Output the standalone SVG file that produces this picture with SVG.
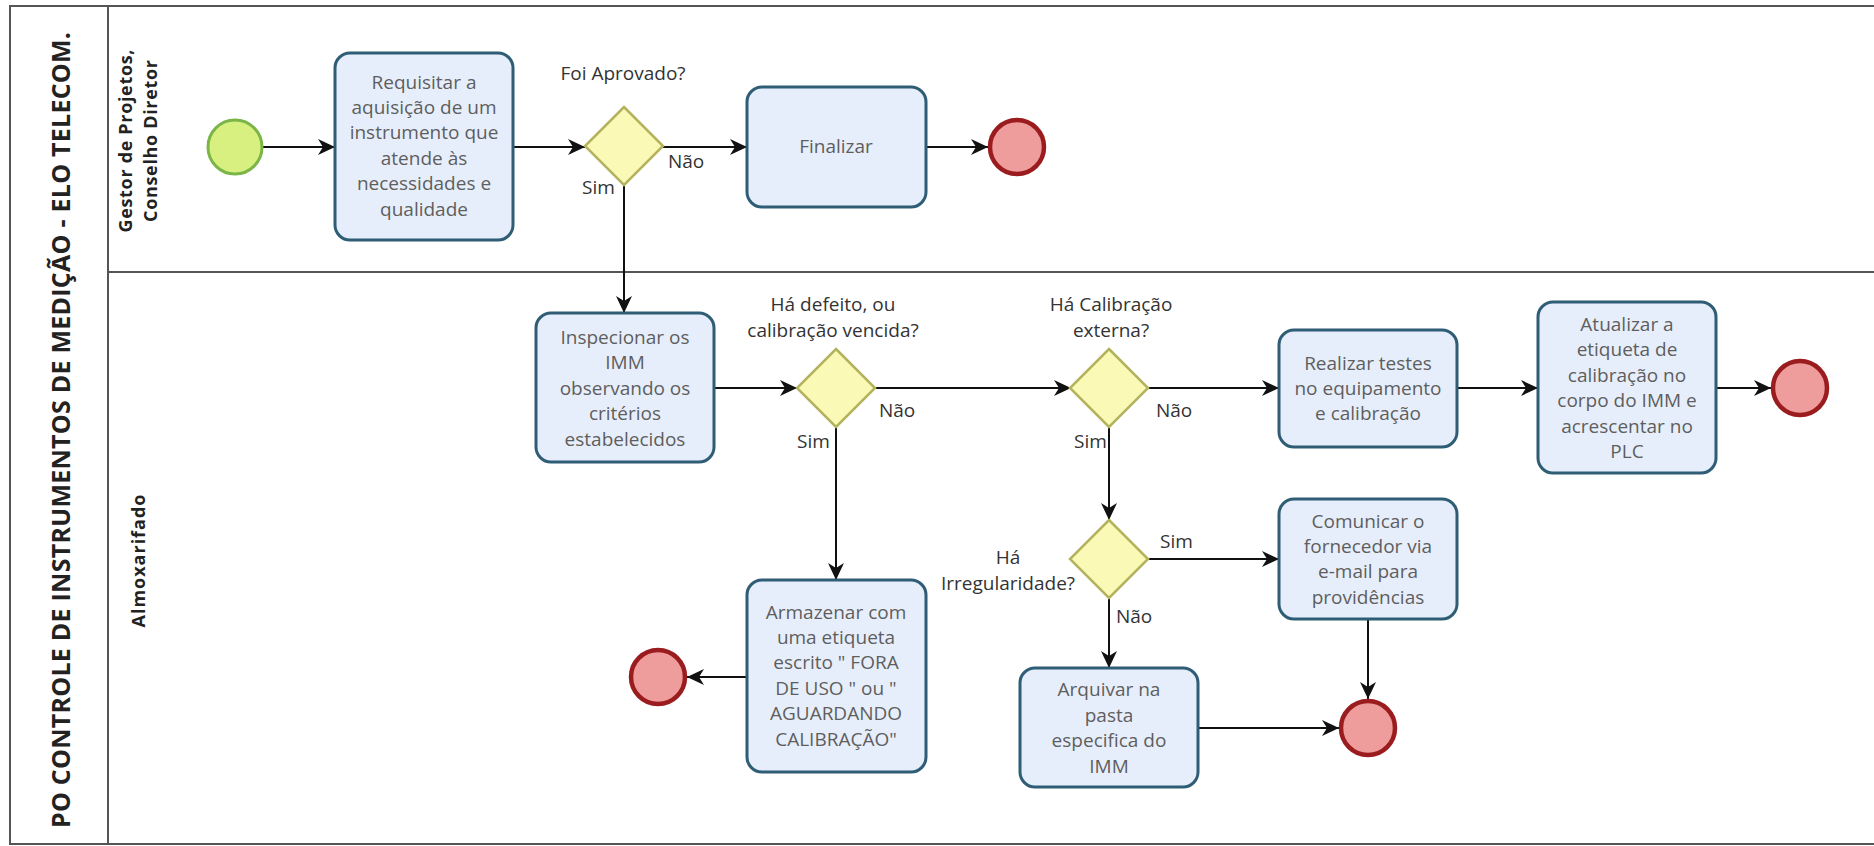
<svg xmlns="http://www.w3.org/2000/svg" width="1874" height="846" viewBox="0 0 1874 846">
<style>
.frame{fill:none;stroke:#555;stroke-width:2}
.task rect{fill:#e7eefb;stroke:#2e5d75;stroke-width:3}
.task text,.ttext{font-family:"Open Sans","Liberation Sans",sans-serif;font-size:19px;fill:#5e5e5e;text-anchor:middle}
.gw polygon{fill:#fbf9b6;stroke:#b3b35e;stroke-width:2.5}
.lbl{font-family:"Open Sans","Liberation Sans",sans-serif;font-size:19px;fill:#333}
.mid{text-anchor:middle}
.start circle{fill:#d8f07f;stroke:#7bb548;stroke-width:3}
.end circle{fill:#ee9c9c;stroke:#9a1c1f;stroke-width:4.5}
.conn path{fill:none;stroke:#111;stroke-width:2}
.lane{font-family:"Open Sans","Liberation Sans",sans-serif;font-weight:bold;fill:#222}
</style>
<defs>
<marker id="arr" markerUnits="userSpaceOnUse" markerWidth="18" markerHeight="18" refX="17" refY="9" orient="auto">
<path d="M0,1 L17,9 L0,17 L5,9 Z" fill="#111"/>
</marker>
</defs>
<rect width="1874" height="846" fill="#fff"/>
<g id="pool">
<rect class="frame" x="10" y="6" width="1880" height="838"/>
<line class="frame" x1="108" y1="6" x2="108" y2="844"/>
<line class="frame" x1="108" y1="272" x2="1874" y2="272"/>
<text class="lane" font-size="25" text-anchor="middle" transform="translate(70,430) rotate(-90)" textLength="796">PO CONTROLE DE INSTRUMENTOS DE MEDIÇÃO - ELO TELECOM.</text>
<text class="lane" font-size="18" text-anchor="middle" transform="translate(132,141) rotate(-90)" textLength="183">Gestor de Projetos,</text>
<text class="lane" font-size="18" text-anchor="middle" transform="translate(157,141) rotate(-90)" textLength="162">Conselho Diretor</text>
<text class="lane" font-size="18" text-anchor="middle" transform="translate(145,561) rotate(-90)" textLength="133">Almoxarifado</text>
</g>
<g id="conn" class="conn">
<path d="M263,147 H335" marker-end="url(#arr)"/>
<path d="M514,147 H585" marker-end="url(#arr)"/>
<path d="M663,147 H747" marker-end="url(#arr)"/>
<path d="M926,147 H988" marker-end="url(#arr)"/>
<path d="M624,185 V313" marker-end="url(#arr)"/>
<path d="M714,388 H797" marker-end="url(#arr)"/>
<path d="M875,388 H1071" marker-end="url(#arr)"/>
<path d="M1147,388 H1279" marker-end="url(#arr)"/>
<path d="M1457,388 H1538" marker-end="url(#arr)"/>
<path d="M1716,388 H1771" marker-end="url(#arr)"/>
<path d="M836,427 V580" marker-end="url(#arr)"/>
<path d="M747,677 H687" marker-end="url(#arr)"/>
<path d="M1109,427 V520" marker-end="url(#arr)"/>
<path d="M1149,559 H1279" marker-end="url(#arr)"/>
<path d="M1109,598 V668" marker-end="url(#arr)"/>
<path d="M1368,619 V699" marker-end="url(#arr)"/>
<path d="M1198,728 H1339" marker-end="url(#arr)"/>
</g>
<g id="start" class="start"><circle cx="235" cy="147" r="27"/></g>
<g id="t_requisitar" class="task">
<rect x="335" y="53" width="178" height="187" rx="15"/>
<text x="424" y="89">Requisitar a</text>
<text x="424" y="114">aquisição de um</text>
<text x="424" y="139">instrumento que</text>
<text x="424" y="165">atende às</text>
<text x="424" y="190">necessidades e</text>
<text x="424" y="216">qualidade</text>
</g>
<g id="gw_aprovado" class="gw">
<polygon points="624,107 663,146 624,185 585,146"/>
<text class="lbl mid" x="623" y="80">Foi Aprovado?</text>
<text class="lbl" x="582" y="194">Sim</text>
<text class="lbl" x="668" y="168">Não</text>
</g>
<g id="t_finalizar" class="task">
<rect x="747" y="87" width="179" height="120" rx="15"/>
<text x="836" y="153">Finalizar</text>
</g>
<g id="end1" class="end"><circle cx="1017" cy="147" r="27"/></g>
<g id="t_inspecionar" class="task">
<rect x="536" y="313" width="178" height="149" rx="15"/>
<text x="625" y="344">Inspecionar os</text>
<text x="625" y="369">IMM</text>
<text x="625" y="395">observando os</text>
<text x="625" y="420">critérios</text>
<text x="625" y="446">estabelecidos</text>
</g>
<g id="gw_defeito" class="gw">
<polygon points="836,349 875,388 836,427 797,388"/>
<text class="lbl mid" x="833" y="311">Há defeito, ou</text>
<text class="lbl mid" x="833" y="337">calibração vencida?</text>
<text class="lbl" x="797" y="448">Sim</text>
<text class="lbl" x="879" y="417">Não</text>
</g>
<g id="gw_calibracao" class="gw">
<polygon points="1109,349 1148,388 1109,427 1070,388"/>
<text class="lbl mid" x="1111" y="311">Há Calibração</text>
<text class="lbl mid" x="1111" y="337">externa?</text>
<text class="lbl" x="1074" y="448">Sim</text>
<text class="lbl" x="1156" y="417">Não</text>
</g>
<g id="t_realizar" class="task">
<rect x="1279" y="330" width="178" height="117" rx="15"/>
<text x="1368" y="370">Realizar testes</text>
<text x="1368" y="395">no equipamento</text>
<text x="1368" y="420">e calibração</text>
</g>
<g id="t_atualizar" class="task">
<rect x="1538" y="302" width="178" height="171" rx="15"/>
<text x="1627" y="331">Atualizar a</text>
<text x="1627" y="356">etiqueta de</text>
<text x="1627" y="382">calibração no</text>
<text x="1627" y="407">corpo do IMM e</text>
<text x="1627" y="433">acrescentar no</text>
<text x="1627" y="458">PLC</text>
</g>
<g id="end2" class="end"><circle cx="1800" cy="388" r="27"/></g>
<g id="gw_irregularidade" class="gw">
<polygon points="1109,520 1148,559 1109,598 1070,559"/>
<text class="lbl mid" x="1008" y="564">Há</text>
<text class="lbl mid" x="1008" y="590">Irregularidade?</text>
<text class="lbl" x="1160" y="548">Sim</text>
<text class="lbl" x="1116" y="623">Não</text>
</g>
<g id="t_comunicar" class="task">
<rect x="1279" y="499" width="178" height="120" rx="15"/>
<text x="1368" y="528">Comunicar o</text>
<text x="1368" y="553">fornecedor via</text>
<text x="1368" y="578">e-mail para</text>
<text x="1368" y="604">providências</text>
</g>
<g id="t_arquivar" class="task">
<rect x="1020" y="668" width="178" height="119" rx="15"/>
<text x="1109" y="696">Arquivar na</text>
<text x="1109" y="722">pasta</text>
<text x="1109" y="747">especifica do</text>
<text x="1109" y="773">IMM</text>
</g>
<g id="end3" class="end"><circle cx="1368" cy="728" r="27"/></g>
<g id="t_armazenar" class="task">
<rect x="747" y="580" width="179" height="192" rx="15"/>
<text x="836" y="619">Armazenar com</text>
<text x="836" y="644">uma etiqueta</text>
<text x="836" y="669">escrito &quot; FORA</text>
<text x="836" y="695">DE USO &quot; ou &quot;</text>
<text x="836" y="720">AGUARDANDO</text>
<text x="836" y="746">CALIBRAÇÃO&quot;</text>
</g>
<g id="end4" class="end"><circle cx="658" cy="677" r="27"/></g>
</svg>
